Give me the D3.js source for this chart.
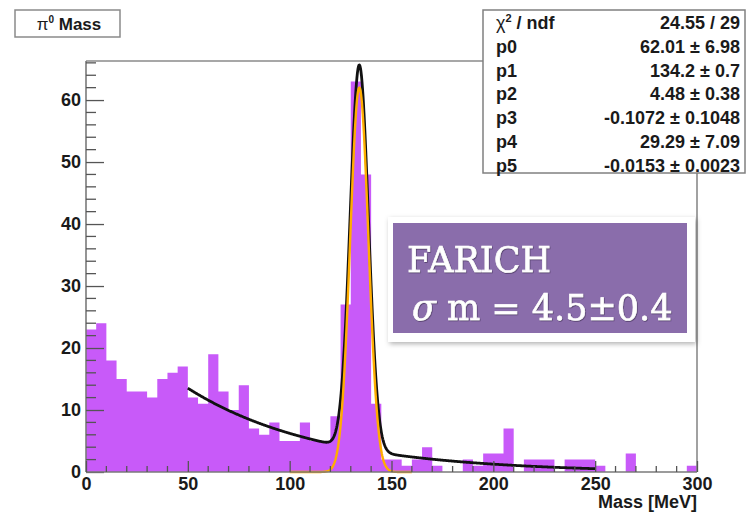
<!DOCTYPE html>
<html>
<head>
<meta charset="utf-8">
<script src="https://cdn.jsdelivr.net/npm/d3@7"></script>
<style>
  body { margin: 0; background: #fff; }
  svg { display: block; }
  text { font-family: "Liberation Sans", Arial, Helvetica, sans-serif; }
</style>
</head>
<body>
<svg id="chart" width="747" height="514"></svg>
<script>
// Histogram: lower edge of each 5 MeV bin and its entry count
const binStarts = [0, 5, 10, 15, 20, 25, 30, 35, 40, 45, 50, 55, 60, 65, 70, 75, 80, 85, 90, 95,
  100, 105, 110, 115, 120, 125, 130, 135, 140, 145, 150, 155, 160, 165, 170, 175, 180, 185, 190, 195,
  200, 205, 210, 215, 220, 225, 230, 235, 240, 245, 250, 255, 260, 265, 270, 275, 280, 285, 290, 295];
const binCounts = [23, 24, 18, 15, 13, 13, 12, 15, 16, 17, 12, 11, 19, 13, 10, 14, 7, 6, 8, 5,
  5, 8, 5, 5, 9, 27, 63, 48, 11, 2, 2, 1, 2, 4, 1, 0, 0, 2, 1, 3,
  3, 7, 0, 2, 2, 2, 0, 2, 2, 2, 1, 0, 0, 3, 0, 0, 0, 0, 0, 1];
const binWidth = 5;

// Axis ticks
const xMajorTicks = [0, 50, 100, 150, 200, 250, 300];
const yMajorTicks = [0, 10, 20, 30, 40, 50, 60];

// Fit result: gaus(p0,p1,p2) + p3 + p4*exp(p5*x)
const fitNames = ["p0", "p1", "p2", "p3", "p4", "p5"];
const fitValues = [62.01, 134.2, 4.48, -0.1072, 29.29, -0.0153];
const fitValueLabels = ["62.01", "134.2", "4.48", "-0.1072", "29.29", "-0.0153"];
const fitErrorLabels = ["6.98", "0.7", "0.38", "0.1048", "7.09", "0.0023"];
const chi2Label = "24.55 / 29";
const fitRange = [50, 250];
const signalRange = [100, 160];

const svg = d3.select("#chart");
const plot = { left: 86, right: 697, top: 61, bottom: 472 };

const x = d3.scaleLinear().domain([0, 300]).range([plot.left, plot.right]);
const y = d3.scaleLinear().domain([0, 66.3]).range([plot.bottom, plot.top]);

// Histogram drawn as one stepped filled shape
const bins = binStarts.map((s, i) => ({ s, c: binCounts[i] }));
const stepPts = bins.concat([{ s: binStarts[binStarts.length - 1] + binWidth, c: binCounts[binCounts.length - 1] }]);
svg.append("path")
  .attr("d", d3.area().curve(d3.curveStepAfter)
    .x(d => x(d.s)).y0(y(0)).y1(d => y(d.c))(stepPts))
  .attr("fill", "#c85af9");

// Fit functions
const [p0, p1, p2, p3, p4, p5] = fitValues;
const gaus = m => p0 * Math.exp(-0.5 * Math.pow((m - p1) / p2, 2));
const full = m => gaus(m) + p3 + p4 * Math.exp(p5 * m);

const sample = (a, b, step) => d3.range(a, b + step / 2, step);
const line = f => d3.line().x(m => x(m)).y(m => y(f(m)));

svg.append("path")
  .attr("d", line(full)(sample(fitRange[0], fitRange[1], 0.25)))
  .attr("fill", "none").attr("stroke", "#111").attr("stroke-width", 2.8)
  .attr("stroke-linejoin", "round");

svg.append("path")
  .attr("d", line(gaus)(sample(signalRange[0], signalRange[1], 0.25)))
  .attr("fill", "none").attr("stroke", "#ffad00").attr("stroke-width", 2.4)
  .attr("stroke-linejoin", "round");

// Frame
const frame = svg.append("g").attr("fill", "none").attr("stroke", "#8a8a8a").attr("stroke-width", 1.6);
frame.append("line").attr("x1", plot.left).attr("x2", plot.right).attr("y1", plot.top).attr("y2", plot.top);
frame.append("line").attr("x1", plot.right).attr("x2", plot.right).attr("y1", plot.top).attr("y2", plot.bottom);

// Axes with major and minor ticks drawn inside the frame
const yMinor = d3.range(0, 66.3, 2).filter(v => v % 10 !== 0);
const xMinor = d3.range(0, 300, 10).filter(v => v % 50 !== 0);

const yAxis = svg.append("g").attr("transform", `translate(${plot.left},0)`)
  .call(d3.axisLeft(y).tickValues(yMajorTicks).tickSize(-18).tickPadding(5).tickFormat(d3.format("d")));
yAxis.append("g").selectAll("line").data(yMinor).join("line")
  .attr("x1", 0).attr("x2", 10).attr("y1", d => y(d)).attr("y2", d => y(d));

const xAxis = svg.append("g").attr("transform", `translate(0,${plot.bottom})`)
  .call(d3.axisBottom(x).tickValues(xMajorTicks).tickSize(-11).tickPadding(5).tickFormat(d3.format("d")));
xAxis.append("g").selectAll("line").data(xMinor).join("line")
  .attr("x1", d => x(d)).attr("x2", d => x(d)).attr("y1", 0).attr("y2", -6);

[yAxis, xAxis].forEach(g => {
  g.selectAll("path.domain").attr("stroke", "#7a7a7a").attr("stroke-width", 1.6);
  g.selectAll("line").attr("stroke", "#555").attr("stroke-width", 1.3);
  g.selectAll("text").attr("font-size", 18).attr("font-weight", "bold").attr("fill", "#1a1a1a")
    .attr("font-family", "'Liberation Sans', Arial, sans-serif");
});
yAxis.select("path.domain").attr("d", `M0,${plot.top}V${plot.bottom}`);
xAxis.select("path.domain").attr("d", `M${plot.left},0H${plot.right}`);

// Axis title
svg.append("text").attr("x", plot.right).attr("y", 508).attr("text-anchor", "end")
  .attr("font-size", 18).attr("font-weight", "bold").attr("fill", "#1a1a1a").text("Mass [MeV]");

// Histogram title box
svg.append("rect").attr("x", 15).attr("y", 10).attr("width", 105).attr("height", 27)
  .attr("fill", "#fff").attr("stroke", "#8a8a8a").attr("stroke-width", 1.5);
const title = svg.append("text").attr("x", 69).attr("y", 30).attr("text-anchor", "middle")
  .attr("font-size", 17).attr("fill", "#1a1a1a");
title.append("tspan").attr("font-weight", "normal").text("π");
title.append("tspan").attr("font-size", 10).attr("font-weight", "bold").attr("dy", -7).text("0");
title.append("tspan").attr("font-weight", "bold").attr("dy", 7).text(" Mass");

// Fit statistics box
const sb = { x: 483, y: 10, w: 262, h: 163 };
svg.append("rect").attr("x", sb.x).attr("y", sb.y).attr("width", sb.w).attr("height", sb.h)
  .attr("fill", "#fff").attr("stroke", "#808080").attr("stroke-width", 1.5);
const rowY = i => 29 + i * 23.8;
const stats = svg.append("g").attr("font-size", 18).attr("fill", "#1a1a1a");
const chiLabel = stats.append("text").attr("x", 496).attr("y", rowY(0));
chiLabel.append("tspan").text("χ");
chiLabel.append("tspan").attr("font-size", 11).attr("font-weight", "bold").attr("dy", -7).text("2");
chiLabel.append("tspan").attr("font-weight", "bold").attr("dy", 7).text(" / ndf");
stats.append("text").attr("x", 740).attr("y", rowY(0)).attr("text-anchor", "end")
  .attr("font-weight", "bold").text(chi2Label);
fitNames.forEach((n, i) => {
  stats.append("text").attr("x", 496).attr("y", rowY(i + 1)).attr("font-weight", "bold").text(n);
  stats.append("text").attr("x", 740).attr("y", rowY(i + 1)).attr("text-anchor", "end")
    .attr("font-weight", "bold").text(`${fitValueLabels[i]} ± ${fitErrorLabels[i]}`);
});

// Resolution annotation
const defs = svg.append("defs");
const sh = defs.append("filter").attr("id", "shadow").attr("x", "-10%").attr("y", "-10%").attr("width", "130%").attr("height", "140%");
sh.append("feDropShadow").attr("dx", 1.5).attr("dy", 2).attr("stdDeviation", 2.5).attr("flood-color", "#000").attr("flood-opacity", 0.3);
const ts = defs.append("filter").attr("id", "tshadow");
ts.append("feDropShadow").attr("dx", 0.6).attr("dy", 0.8).attr("stdDeviation", 0.6).attr("flood-color", "#3a2a50").attr("flood-opacity", 0.8);

svg.append("rect").attr("x", 388).attr("y", 217).attr("width", 307).attr("height", 125)
  .attr("fill", "#fff").attr("filter", "url(#shadow)");
svg.append("rect").attr("x", 393).attr("y", 223).attr("width", 294).attr("height", 110)
  .attr("fill", "#8a6dab");
const note = svg.append("g").attr("fill", "#fff").attr("stroke", "#fff").attr("stroke-width", 0.6)
  .attr("filter", "url(#tshadow)").attr("font-size", 35);
note.append("text").attr("x", 407).attr("y", 272)
  .style("font-family", "'DejaVu Serif', serif").text("FARICH");
const l2 = note.append("text").attr("x", 412).attr("y", 320).style("font-family", "'DejaVu Serif', serif");
l2.append("tspan").attr("font-style", "italic").text("σ");
l2.append("tspan").text(" m = 4.5±0.4");
</script>
</body>
</html>
